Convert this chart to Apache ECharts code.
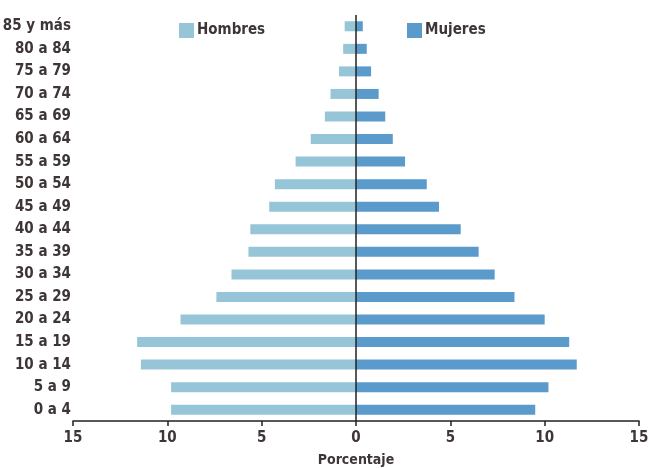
<!DOCTYPE html>
<html>
<head>
<meta charset="utf-8">
<script src="https://cdn.jsdelivr.net/npm/echarts@6/dist/echarts.min.js"></script>
<style>
html,body{margin:0;padding:0;background:#fff;}
#chart{width:649px;height:468px;}
</style>
</head>
<body>
<div id="chart"></div>
<script>
const categories = ['0 a 4','5 a 9','10 a 14','15 a 19','20 a 24','25 a 29','30 a 34','35 a 39','40 a 44','45 a 49','50 a 54','55 a 59','60 a 64','65 a 69','70 a 74','75 a 79','80 a 84','85 y más'];
const hombres = [9.8, 9.8, 11.4, 11.6, 9.3, 7.4, 6.6, 5.7, 5.6, 4.6, 4.3, 3.2, 2.4, 1.65, 1.35, 0.9, 0.68, 0.6];
const mujeres = [9.5, 10.2, 11.7, 11.3, 10.0, 8.4, 7.35, 6.5, 5.55, 4.4, 3.75, 2.6, 1.95, 1.55, 1.2, 0.8, 0.57, 0.36];
const xTicks = [-15, -10, -5, 0, 5, 10, 15];

const FONT = '"DejaVu Sans Condensed", "Liberation Sans Narrow", sans-serif';
const TXT = '#3e3636';
const FW = 'bold';

const chart = echarts.init(document.getElementById('chart'));
chart.setOption({
  animation: false,
  textStyle: { fontFamily: FONT, color: TXT },
  grid: { left: 73, right: 10, top: 15, bottom: 47, containLabel: false, outerBoundsMode: 'none' },
  legend: [
    { data: ['Hombres'], left: 174, top: 18, itemWidth: 15, itemHeight: 15, icon: 'rect', itemGap: 5,
      textStyle: { fontFamily: FONT, fontSize: 15, fontWeight: FW, color: TXT, padding: [0,0,0,-2] } },
    { data: ['Mujeres'], left: 402, top: 18, itemWidth: 15, itemHeight: 15, icon: 'rect', itemGap: 5,
      textStyle: { fontFamily: FONT, fontSize: 15, fontWeight: FW, color: TXT, padding: [0,0,0,-2] } }
  ],
  xAxis: {
    type: 'value', min: xTicks[0], max: xTicks[xTicks.length - 1], interval: 5,
    name: 'Porcentaje', nameLocation: 'middle', nameGap: 32,
    nameTextStyle: { fontFamily: FONT, fontSize: 14, fontWeight: FW, color: TXT },
    axisLine: { show: true, lineStyle: { color: '#222', width: 1.5 } },
    axisTick: { show: true, length: 5, lineStyle: { color: '#222', width: 1.5 } },
    splitLine: { show: false },
    axisLabel: { fontFamily: FONT, fontSize: 15, fontWeight: FW, color: TXT, margin: 10, formatter: v => Math.abs(v) }
  },
  yAxis: {
    type: 'category', data: categories,
    axisLine: { show: false }, axisTick: { show: false },
    axisLabel: { fontFamily: FONT, fontSize: 15, fontWeight: FW, color: TXT, margin: 2, interval: 0 }
  },
  series: [
    { name: 'Hombres', type: 'bar', stack: 'p', barWidth: 10,
      itemStyle: { color: '#96c5d8' },
      data: hombres.map(v => -v),
      markLine: { silent: true, symbol: 'none', label: { show: false },
        lineStyle: { color: '#222', width: 1.5, type: 'solid' }, data: [{ xAxis: 0 }] } },
    { name: 'Mujeres', type: 'bar', stack: 'p', barWidth: 10,
      itemStyle: { color: '#5a9bcb' },
      data: mujeres }
  ]
});
</script>
</body>
</html>
